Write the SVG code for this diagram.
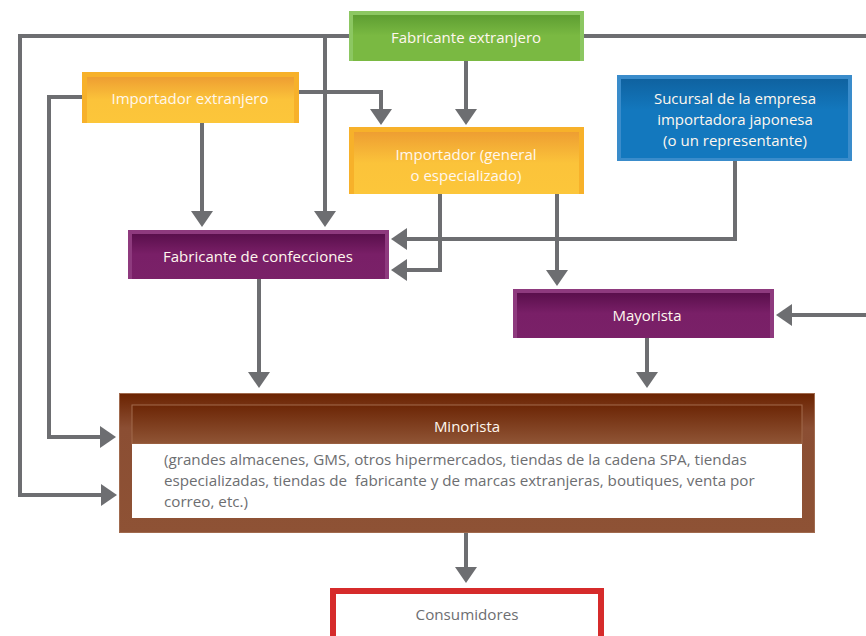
<svg xmlns="http://www.w3.org/2000/svg" width="866" height="636" viewBox="0 0 866 636">
<style>
.lbl{font-family:"Open Sans","Noto Sans","Liberation Sans",sans-serif;font-size:15px;fill:#FFF7EE;text-anchor:middle}
.body{font-family:"Open Sans","Noto Sans","Liberation Sans",sans-serif;font-size:15.2px;fill:#6D6E71}
.cn{fill:none;stroke:#6D6E71;stroke-width:4;marker-end:url(#ah)}
.ln{fill:none;stroke:#6D6E71;stroke-width:4}
</style>
<defs>
<marker id="ah" markerUnits="userSpaceOnUse" markerWidth="16" markerHeight="22" viewBox="0 0 16 22" refX="13" refY="11" orient="auto">
<path d="M0,0 L16,11 L0,22 z" fill="#6D6E71"/>
</marker>
<linearGradient id="gG" x1="0" y1="0" x2="0" y2="1"><stop offset="0" stop-color="#5E9E32"/><stop offset="0.45" stop-color="#7AB942"/><stop offset="1" stop-color="#7AB942"/></linearGradient>
<linearGradient id="gY" x1="0" y1="0" x2="0" y2="1"><stop offset="0" stop-color="#EE9E32"/><stop offset="0.5" stop-color="#FBC33A"/><stop offset="1" stop-color="#FCC63A"/></linearGradient>
<linearGradient id="gB" x1="0" y1="0" x2="0" y2="1"><stop offset="0" stop-color="#0F62A0"/><stop offset="0.4" stop-color="#1378BE"/><stop offset="1" stop-color="#1378BE"/></linearGradient>
<linearGradient id="gP" x1="0" y1="0" x2="0" y2="1"><stop offset="0" stop-color="#5A0F4C"/><stop offset="0.45" stop-color="#791F67"/><stop offset="1" stop-color="#7A2168"/></linearGradient>
<linearGradient id="gR" x1="0" y1="0" x2="0" y2="1"><stop offset="0" stop-color="#6A2200"/><stop offset="0.25" stop-color="#8B4E33"/><stop offset="1" stop-color="#8E5235"/></linearGradient>
<linearGradient id="gH" x1="0" y1="0" x2="0" y2="1"><stop offset="0" stop-color="#6C2606"/><stop offset="1" stop-color="#905536"/></linearGradient>
</defs>

<g id="connectors">
<path class="ln" d="M349,36 H20 V495 H114"/>
<path class="cn" d="M20,495 H114"/>
<path class="cn" d="M325,36 V224"/>
<path class="ln" d="M584,36 H870"/>
<path class="cn" d="M870,315 H779"/>
<path class="cn" d="M466,61 V122"/>
<path class="cn" d="M82,97 H49 V437 H113"/>
<path class="cn" d="M299,92 H381 V122"/>
<path class="cn" d="M202,123 V224"/>
<path class="cn" d="M440,194 V270 H394"/>
<path class="cn" d="M557,194 V283"/>
<path class="cn" d="M735,161 V239 H394"/>
<path class="cn" d="M259,279 V385"/>
<path class="cn" d="M647,338 V385"/>
<path class="cn" d="M466,532 V580"/>
</g>

<g id="fabricante-extranjero">
<rect x="349" y="11" width="235" height="50" fill="#8CC762"/>
<rect x="353" y="15" width="227" height="46" fill="url(#gG)"/>
<text class="lbl" x="466" y="43">Fabricante extranjero</text>
</g>

<g id="importador-extranjero">
<rect x="82" y="72" width="217" height="51" fill="#F7B12A"/>
<rect x="87" y="77" width="207" height="46" fill="url(#gY)"/>
<text class="lbl" x="190" y="104">Importador extranjero</text>
</g>

<g id="importador-general">
<rect x="349" y="127" width="235" height="67" fill="#F7B12A"/>
<rect x="354" y="132" width="225" height="62" fill="url(#gY)"/>
<text class="lbl" x="466" y="160">Importador (general</text>
<text class="lbl" x="466" y="181">o especializado)</text>
</g>

<g id="sucursal">
<rect x="617" y="75" width="235" height="86" fill="#3A8CCB"/>
<rect x="621" y="79" width="227" height="79" fill="url(#gB)"/>
<text class="lbl" x="735" y="104">Sucursal de la empresa</text>
<text class="lbl" x="735" y="125">importadora japonesa</text>
<text class="lbl" x="735" y="146">(o un representante)</text>
</g>

<g id="fabricante-confecciones">
<rect x="128" y="230" width="261" height="49" fill="#8E3A7E"/>
<rect x="132" y="234" width="253" height="45" fill="url(#gP)"/>
<text class="lbl" x="258" y="262">Fabricante de confecciones</text>
</g>

<g id="mayorista">
<rect x="513" y="289" width="261" height="49" fill="#8E3A7E"/>
<rect x="517" y="293" width="253" height="45" fill="url(#gP)"/>
<text class="lbl" x="647" y="321">Mayorista</text>
</g>

<g id="minorista">
<rect x="119" y="393" width="696" height="140" fill="url(#gR)"/>
<rect x="119.5" y="393.5" width="695" height="139" fill="none" stroke="#A06A4E" stroke-width="1"/>
<rect x="132" y="405" width="670" height="39" fill="url(#gH)" stroke="#A26A4C" stroke-width="1"/>
<rect x="132" y="444" width="670" height="74" fill="#FFFFFF"/>
<text class="lbl" x="467" y="432">Minorista</text>
<text class="body" x="164" y="465">(grandes almacenes, GMS, otros hipermercados, tiendas de la cadena SPA, tiendas</text>
<text class="body" x="164" y="486" style="white-space:pre">especializadas, tiendas de  fabricante y de marcas extranjeras, boutiques, venta por</text>
<text class="body" x="164" y="507">correo, etc.)</text>
</g>

<g id="consumidores">
<rect x="333" y="591" width="268" height="52" fill="#FFFFFF" stroke="#D62B2B" stroke-width="6"/>
<text class="body" x="467" y="620" style="text-anchor:middle">Consumidores</text>
</g>
</svg>
